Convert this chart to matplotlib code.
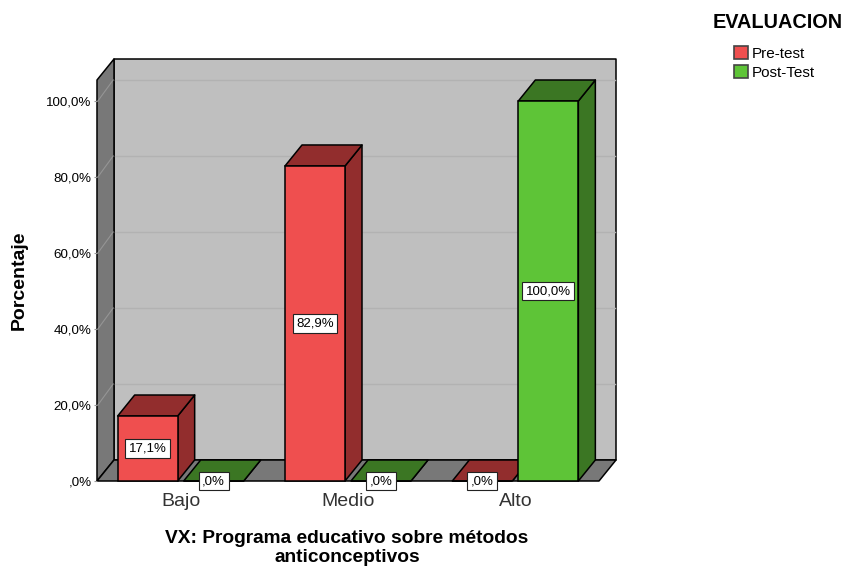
import matplotlib
matplotlib.use('Agg')
from matplotlib import pyplot as plt
from matplotlib.patches import Polygon

plt.rcParams['font.family'] = ['Liberation Sans', 'DejaVu Sans']

categorias = ['Bajo', 'Medio', 'Alto']
pre_test = [17.1, 82.9, 0.0]
post_test = [0.0, 0.0, 100.0]
etiquetas_pre = ['17,1%', '82,9%', ',0%']
etiquetas_post = [',0%', ',0%', '100,0%']
ticks_y = [0, 20, 40, 60, 80, 100]
ticks_y_txt = [',0%', '20,0%', '40,0%', '60,0%', '80,0%', '100,0%']

rojo = '#ef4f4f'
rojo_osc = '#922d2d'
verde = '#5ec437'
verde_osc = '#3b7623'

# profundidad del efecto 3D en unidades de datos
dx = 17 / 167.3
dy = 21 / 3.8
ancho = 60 / 167.3
sep = 66 / 167.3 / 2
xmin, xmax = -0.5, 2.5
ymin, ymax = 0, 401 / 3.8

fig = plt.figure(figsize=(8.43, 5.68), dpi=100)
ax = fig.add_axes([97 / 843, (568 - 481) / 568, 502 / 843, 401 / 568])
ax.set_xlim(xmin, xmax)
ax.set_ylim(ymin, ymax)
ax.patch.set_visible(False)
for s in ax.spines.values():
    s.set_visible(False)


def poly(puntos, color, z, borde='black', lw=1.1):
    ax.add_patch(Polygon(puntos, closed=True, facecolor=color, edgecolor=borde,
                         linewidth=lw, zorder=z, clip_on=False, joinstyle='round'))


# paredes y suelo
poly([(xmin + dx, dy), (xmax + dx, dy), (xmax + dx, ymax + dy), (xmin + dx, ymax + dy)], '#bfbfbf', 1)
poly([(xmin, 0), (xmin + dx, dy), (xmin + dx, ymax + dy), (xmin, ymax)], '#787878', 1)
poly([(xmin, 0), (xmax, 0), (xmax + dx, dy), (xmin + dx, dy)], '#787878', 1)

for t in ticks_y[1:]:
    ax.plot([xmin + dx + 0.005, xmax + dx - 0.005], [t + dy, t + dy], color='#b2b2b2', lw=1, zorder=2, clip_on=False)
    ax.plot([xmin + 0.005, xmin + dx - 0.005], [t, t + dy], color='#959595', lw=0.8, zorder=2, clip_on=False)


def barra(x, v, color, oscuro, z):
    izq, der = x - ancho / 2, x + ancho / 2
    poly([(der, 0), (der + dx, dy), (der + dx, v + dy), (der, v)], oscuro, z)
    poly([(izq, v), (der, v), (der + dx, v + dy), (izq + dx, v + dy)], oscuro, z)
    return ax.bar(x, v, width=ancho, color=color, edgecolor='black', linewidth=1.1, zorder=z + 0.1,
                  clip_on=False)


h_pre = h_post = None
for i in range(len(categorias)):
    h_pre = barra(i - sep, pre_test[i], rojo, rojo_osc, 3 + i)
    h_post = barra(i + sep, post_test[i], verde, verde_osc, 3.5 + i)

# etiquetas de valor
for i in range(len(categorias)):
    for x, v, txt in [(i - sep, pre_test[i], etiquetas_pre[i]), (i + sep, post_test[i], etiquetas_post[i])]:
        ax.text(x, v / 2, txt, ha='center', va='center', fontsize=9.5, color='black', zorder=10,
                clip_on=False,
                bbox=dict(boxstyle='square,pad=0.26', facecolor='white', edgecolor='#222222', linewidth=0.8))

ax.set_yticks(ticks_y)
ax.set_yticklabels(ticks_y_txt, fontsize=9.6)
ax.set_xticks(range(len(categorias)))
ax.set_xticklabels(categorias, fontsize=14, color='#333333')
ax.tick_params(axis='y', length=2, color='#999999', pad=2)
ax.tick_params(axis='x', length=0, pad=9)

fig.text(347 / 843, 1 - 548 / 568, 'VX: Programa educativo sobre métodos\nanticonceptivos',
         ha='center', va='center', fontsize=13.8, fontweight='bold', linespacing=1.12)
fig.text(19 / 843, 1 - 280 / 568, 'Porcentaje', ha='center', va='center', rotation=90,
         fontsize=14, fontweight='bold')
fig.text(713 / 843, 1 - 23 / 568, 'EVALUACION', ha='left', va='center', fontsize=14.3, fontweight='bold')

leg = fig.legend([h_pre, h_post], ['Pre-test', 'Post-Test'], frameon=False,
                 loc='upper left', bbox_to_anchor=(734 / 843, 1 - 46.5 / 568), fontsize=11,
                 handlelength=0.92, handleheight=0.92,
                 handletextpad=0.25, labelspacing=0.25, borderpad=0, borderaxespad=0)
for h in leg.legend_handles:
    h.set_edgecolor('#444444')
    h.set_linewidth(1.2)

fig.savefig('out.png', dpi=100)
